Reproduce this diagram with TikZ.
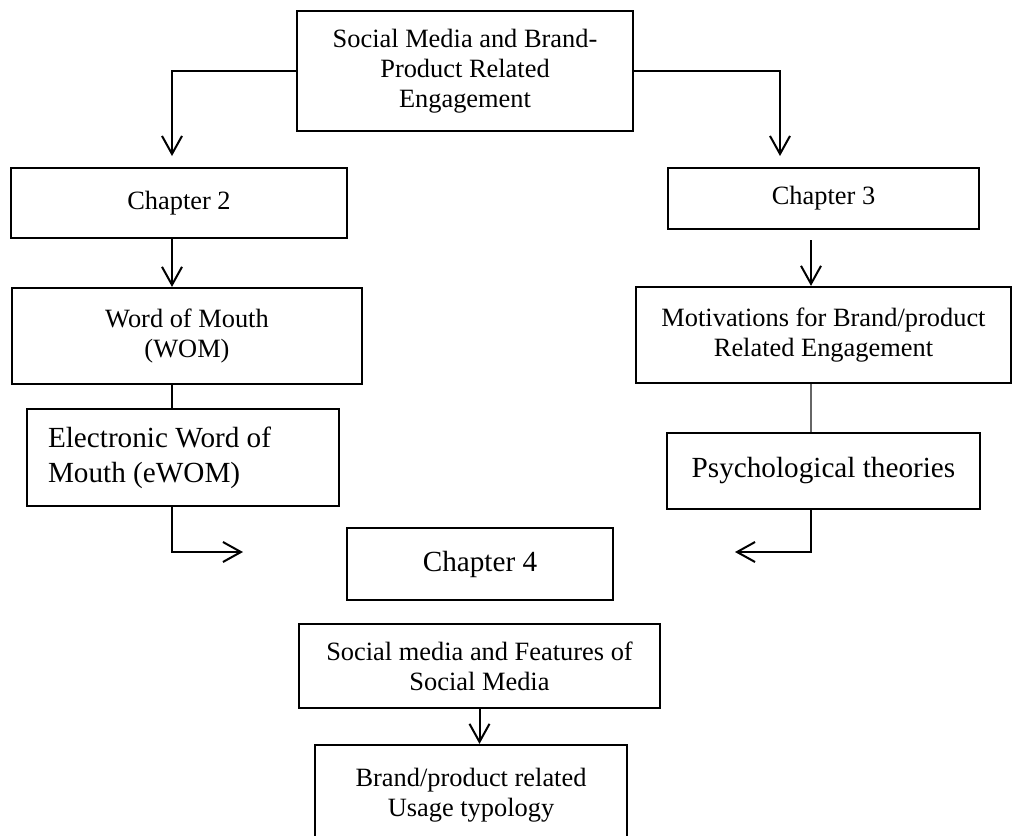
\documentclass[tikz,border=0pt]{standalone}
\usepackage{fontspec}
\setmainfont{Liberation Serif}
\usetikzlibrary{arrows.meta}
\tikzset{
	box/.style={draw, line width=1.1pt, align=center, inner sep=0pt, font=\fontsize{13.2}{15}\selectfont},
	bigbox/.style={box, font=\fontsize{14.6}{17.5}\selectfont},
	link/.style={line width=1pt},
	arrow/.style={link, -{Straight Barb[length=9pt, width=10pt]}}
}

\begin{document}
\begin{tikzpicture}[x=0.5pt, y=-0.5pt]
			%%%%% START %%%%%
			
			\useasboundingbox (0, 0) rectangle (1013, 836);
			\clip (0, 0) rectangle (1013, 836);
			
			\node[box, minimum width=168pt, minimum height=60pt] (top) at (465, 71) {Social Media and Brand-\\Product Related\\Engagement};
			
			\node[box, minimum width=168pt, minimum height=35pt] (ch2) at (179, 203) {Chapter 2};
			\node[box, minimum width=175pt, minimum height=48pt] (wom) at (187, 336) {Word of Mouth\\(WOM)};
			\node[bigbox, text width=135pt, align=flush left, inner xsep=10.5pt, minimum height=48.5pt] (ewom) at (183, 457.5) {Electronic Word of\\Mouth (eWOM)};
			
			\node[box, minimum width=155.5pt, minimum height=30.5pt] (ch3) at (823.5, 198.5) {Chapter 3};
			\node[box, minimum width=187.5pt, minimum height=48pt] (mot) at (823.5, 335) {Motivations for Brand/product\\Related Engagement};
			\node[bigbox, minimum width=156.5pt, minimum height=38pt] (psy) at (823.5, 471) {Psychological theories};
			
			\node[bigbox, minimum width=133pt, minimum height=36pt] (ch4) at (480, 564) {Chapter 4};
			\node[box, minimum width=180.5pt, minimum height=42pt] (soc) at (479.5, 666) {Social media and Features of\\Social Media};
			\node[box, minimum width=156pt, minimum height=50pt] (brand) at (471, 795) {Brand/product related\\Usage typology};
			
			\coordinate (l1) at (172, 156);
			\coordinate (r1) at (780, 156);
			\coordinate (r2) at (811, 240);
			\coordinate (l2) at (243, 552);
			\coordinate (r3) at (735, 552);
			
			\draw[arrow] (top.west) -| (l1);
			\draw[arrow] (top.east) -| (r1);
			
			\draw[arrow] (ch2.south -| l1) -- (wom.north -| l1);
			\draw[link] (wom.south -| l1) -- (ewom.north -| l1);
			\draw[arrow] (ewom.south -| l1) |- (l2);
			
			\draw[arrow] (r2) -- (mot.north -| r2);
			\draw[link, black!60, line width=0.7pt] (mot.south -| r2) -- (psy.north -| r2);
			\draw[arrow] (psy.south -| r2) |- (r3);
			
			\draw[arrow] (soc.south) -- (soc.south |- brand.north);
			
			%%%%% END %%%%%
\end{tikzpicture}
\end{document}
